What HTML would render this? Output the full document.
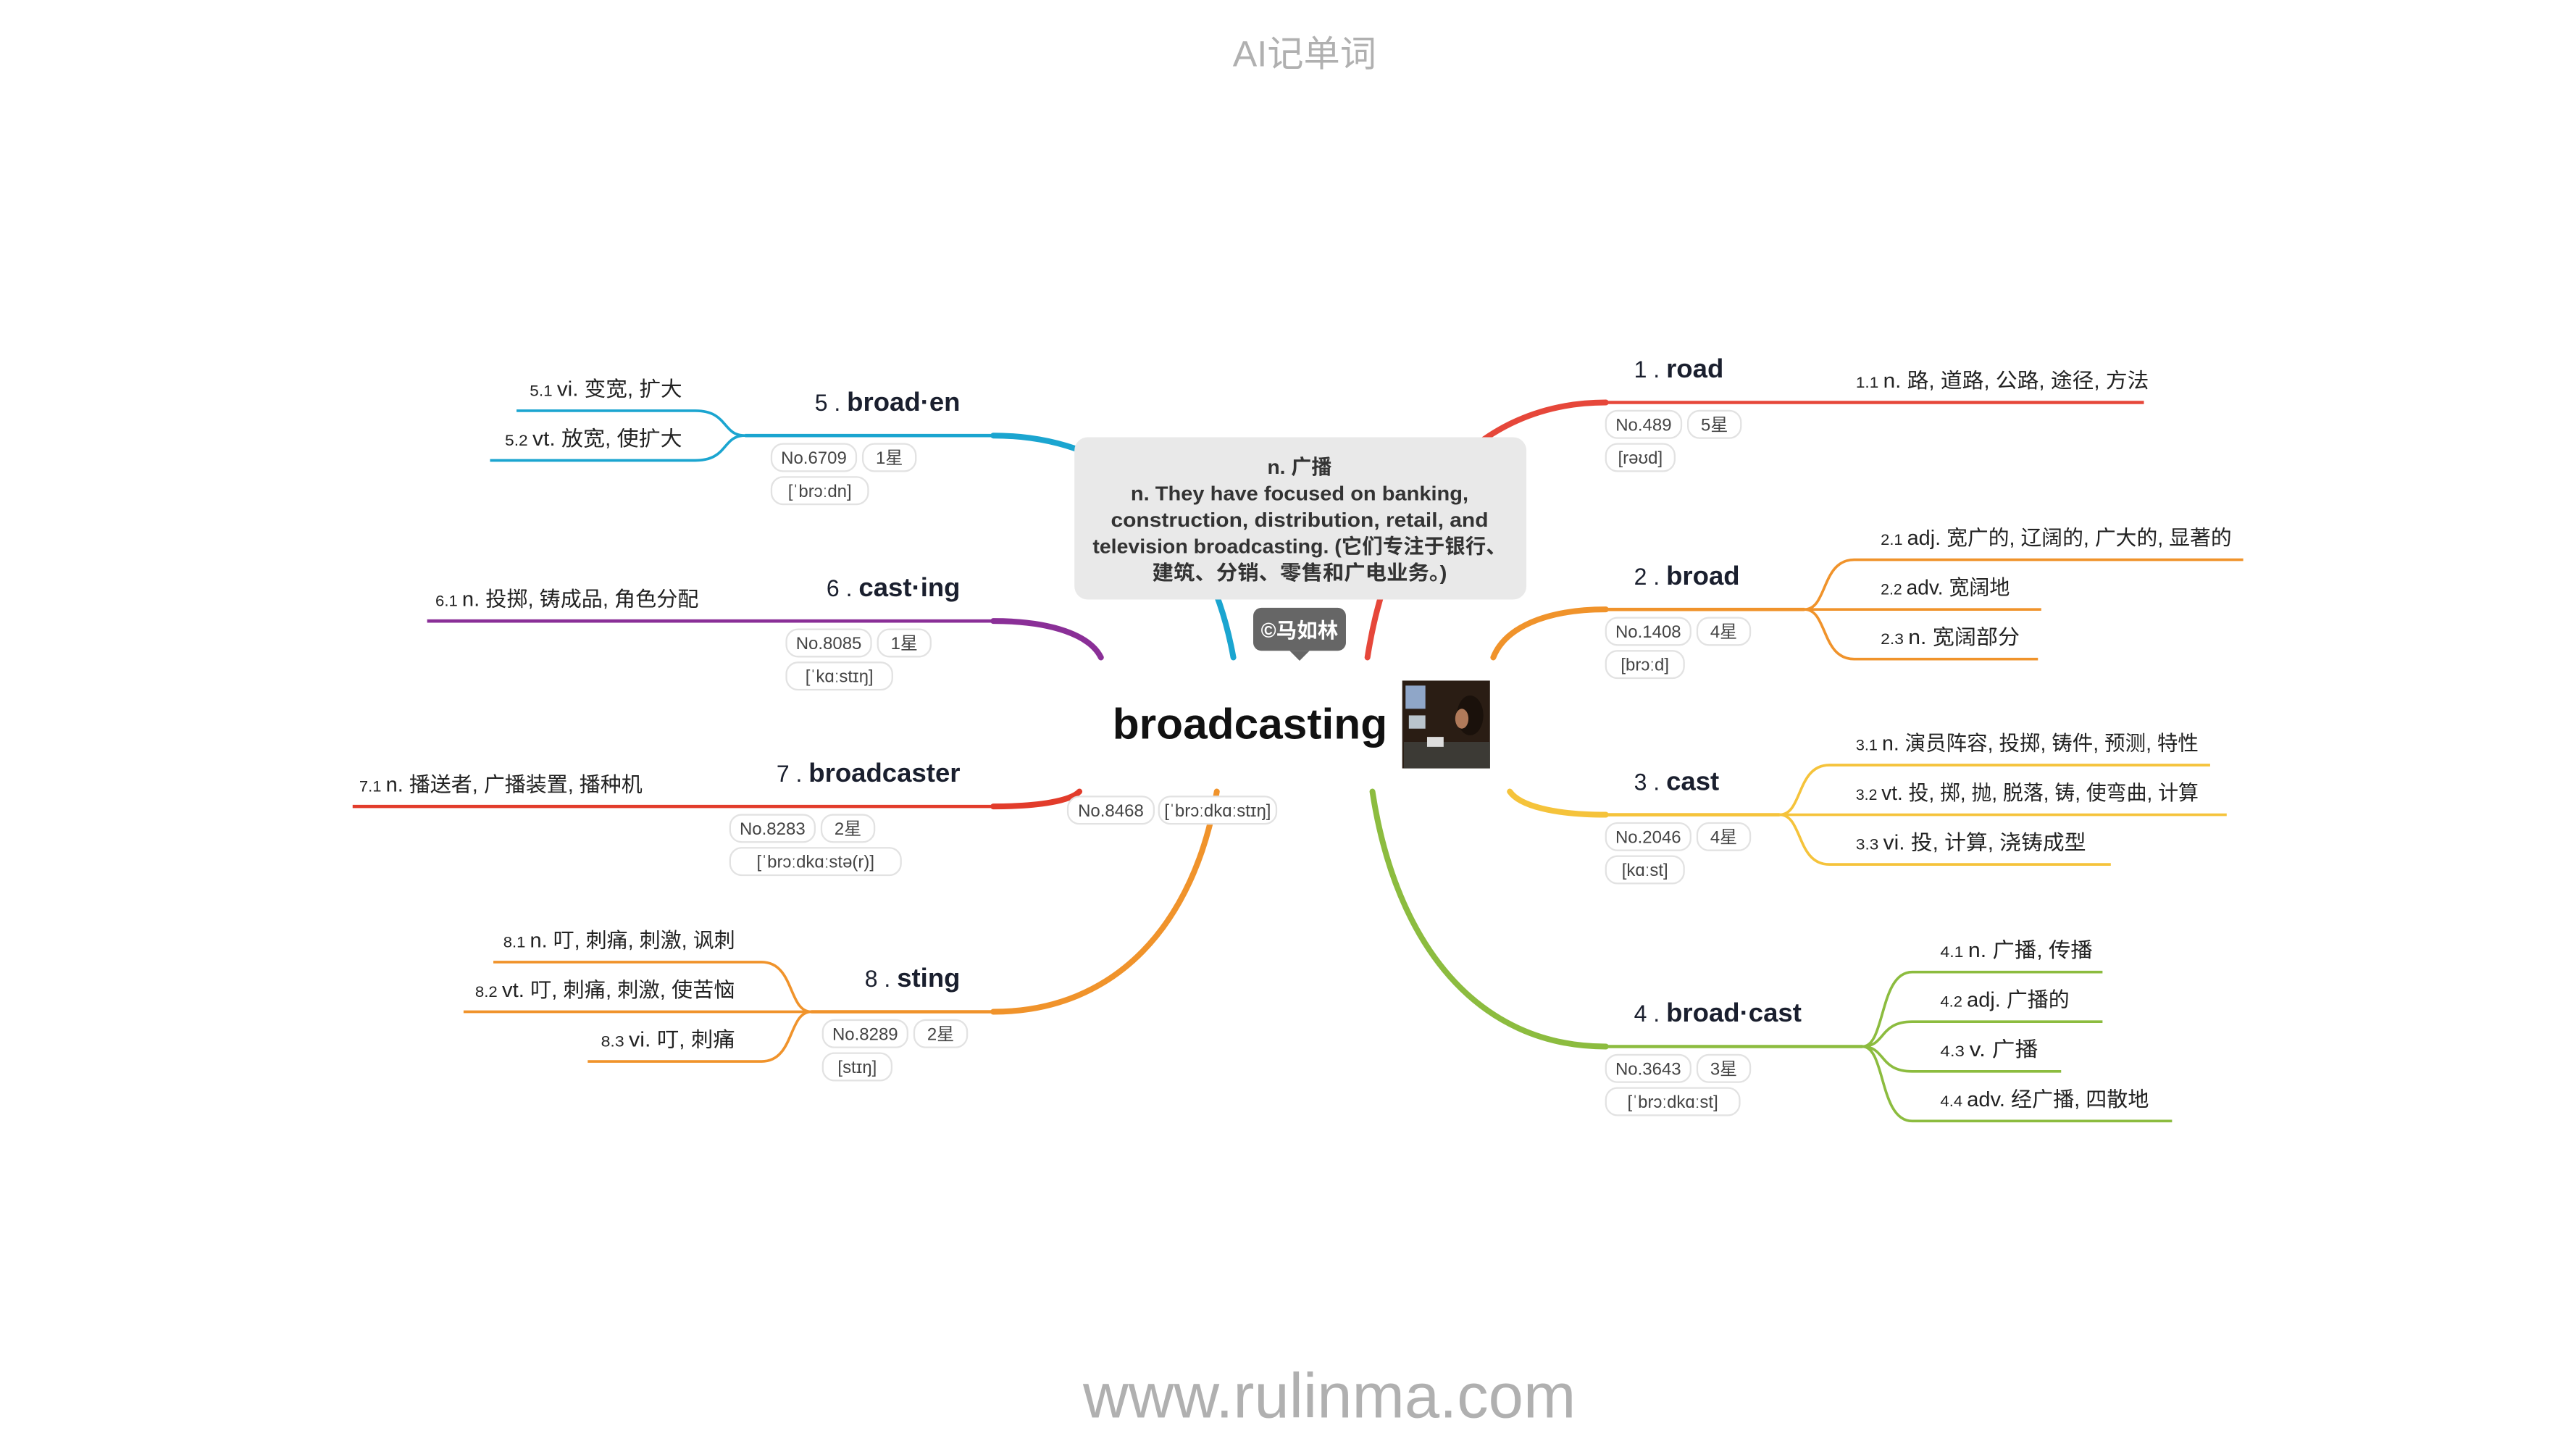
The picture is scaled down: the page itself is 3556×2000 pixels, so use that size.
<!DOCTYPE html>
<html><head><meta charset="utf-8"><style>
html,body{margin:0;padding:0;background:#fff}
svg{display:block}
text{font-family:"Liberation Sans","Noto Sans CJK SC",sans-serif}
</style></head><body>
<svg id="map" width="3556" height="2000" viewBox="0 0 1556 875" xmlns="http://www.w3.org/2000/svg">
<text x="788" y="40" text-anchor="middle" font-size="22" fill="#b0b0b0">AI记单词</text>
<text x="803" y="856" text-anchor="middle" font-size="38" fill="#b0b0b0">www.rulinma.com</text>
<g id="branches"></g>
<rect x="649" y="264" width="273" height="98" rx="8" fill="#e9e9e9"/>
<g font-size="12.3" font-weight="bold" fill="#333" text-anchor="middle">
<text x="785" y="286">n. 广播</text>
<text x="785" y="302" textLength="204" lengthAdjust="spacingAndGlyphs">n. They have focused on banking,</text>
<text x="785" y="318" textLength="228" lengthAdjust="spacingAndGlyphs">construction, distribution, retail, and</text>
<text x="785" y="334" textLength="250" lengthAdjust="spacingAndGlyphs">television broadcasting. (它们专注于银行、</text>
<text x="785" y="350" textLength="178" lengthAdjust="spacingAndGlyphs">建筑、分销、零售和广电业务。)</text>
</g>
<rect x="757" y="367" width="56" height="26" rx="5" fill="#666"/>
<path d="M779,393 L785,399 L791,393 Z" fill="#666"/>
<text x="785" y="385" text-anchor="middle" font-size="12.5" font-weight="bold" fill="#fff">©马如林</text>
<text x="755" y="446" text-anchor="middle" font-size="26" font-weight="bold" fill="#111" textLength="166" lengthAdjust="spacingAndGlyphs">broadcasting</text>
<g>
<rect x="847" y="411" width="53" height="53" fill="#2a1d14"/>
<rect x="849" y="414" width="12" height="14" fill="#8fa6c8"/>
<rect x="851" y="432" width="10" height="8" fill="#b9c4cc"/>
<rect x="848" y="448" width="52" height="16" fill="#3c3a35"/>
<rect x="862" y="445" width="10" height="6" fill="#ddd"/>
<ellipse cx="888" cy="432" rx="8" ry="12" fill="#1a110b"/>
<ellipse cx="883" cy="434" rx="4" ry="6" fill="#b07a5a"/>
</g>
<g id="center-badges"></g>
</svg>
<script>
var NS='http://www.w3.org/2000/svg';
var words=['road','broad','cast','broad·cast','broad·en','cast·ing','broadcaster','sting'];
var nums=['No.489','No.1408','No.2046','No.3643','No.6709','No.8085','No.8283','No.8289'];
var stars=['5星','4星','4星','3星','1星','1星','2星','2星'];
var phon=['[rəʊd]','[brɔːd]','[kɑːst]','[ˈbrɔːdkɑːst]','[ˈbrɔːdn]','[ˈkɑːstɪŋ]','[ˈbrɔːdkɑːstə(r)]','[stɪŋ]'];
var colors=['#e6473a','#f0932b','#f5c33b','#8cbc3f','#1ba5d0','#8a2f97','#e23c2b','#f0932b'];
var senses=[
 ['n. 路, 道路, 公路, 途径, 方法'],
 ['adj. 宽广的, 辽阔的, 广大的, 显著的','adv. 宽阔地','n. 宽阔部分'],
 ['n. 演员阵容, 投掷, 铸件, 预测, 特性','vt. 投, 掷, 抛, 脱落, 铸, 使弯曲, 计算','vi. 投, 计算, 浇铸成型'],
 ['n. 广播, 传播','adj. 广播的','v. 广播','adv. 经广播, 四散地'],
 ['vi. 变宽, 扩大','vt. 放宽, 使扩大'],
 ['n. 投掷, 铸成品, 角色分配'],
 ['n. 播送者, 广播装置, 播种机'],
 ['n. 叮, 刺痛, 刺激, 讽刺','vt. 叮, 刺痛, 刺激, 使苦恼','vi. 叮, 刺痛']
];
var geo=[
 {side:1,sx:826,sy:397,ly:243,jx:1105,tx:1121,ends:[1295]},
 {side:1,sx:902,sy:397,ly:368,jx:1090,tx:1136,ends:[1355,1233,1231]},
 {side:1,sx:912,sy:478,ly:492,jx:1075,tx:1121,ends:[1335,1345,1275]},
 {side:1,sx:829,sy:478,ly:632,jx:1125,tx:1172,ends:[1270,1270,1245,1312]},
 {side:-1,sx:745,sy:397,ly:263,jx:450,tx:412,ends:[312,296]},
 {side:-1,sx:665,sy:397,ly:375,jx:258,tx:422,ends:[258]},
 {side:-1,sx:652,sy:478,ly:487,jx:213,tx:388,ends:[213]},
 {side:-1,sx:735,sy:478,ly:611,jx:490,tx:444,ends:[298,280,355]}
];
var tw=[[155],[190,56,62],[185,185,117],[70,56,37,104],[70,85],[137],[149],[118,135,59]];
var g=document.getElementById('branches');
function el(t,a,p){var e=document.createElementNS(NS,t);for(var k in a)e.setAttribute(k,a[k]);(p||g).appendChild(e);return e;}
function badge(x,y,txt,w,parent){
 var r=el('rect',{x:x,y:y,width:w,height:16.5,rx:7,fill:'#fff',stroke:'#e2e2e2','stroke-width':1},parent);
 
 
 var t=el('text',{x:x+w/2,y:y+12,'font-size':10.5,fill:'#444','text-anchor':'middle'},parent);
 t.textContent=txt;
 
 
}
function bw(s){return Math.max(30,s.length*5.6+12);}
for(var i=0;i<words.length;i++){
 var G=geo[i],c=colors[i],s=G.side;
 var cornerX = s>0?970:600;
 var c1x=G.sx+(cornerX-G.sx)*0.1, c1y=G.sy+(G.ly-G.sy)*0.6;
 var c2x=G.sx+(cornerX-G.sx)*0.45, c2y=G.ly;
 var trunk=el('path',{d:'M'+G.sx+','+G.sy+' C'+c1x+','+c1y+' '+c2x+','+c2y+' '+cornerX+','+G.ly,fill:'none',stroke:c,'stroke-width':3.5,'stroke-linecap':'round'});
 
 
 var jx = (senses[i].length>1)?G.jx:G.ends[0];
 var ln=el('path',{d:'M'+cornerX+','+G.ly+' L'+jx+','+G.ly,fill:'none',stroke:c,'stroke-width':2});
 
 
 var n=senses[i].length;
 for(var j=0;j<n;j++){
  var sy = n===1?G.ly:G.ly+(j-(n-1)/2)*30;
  if(i===1) sy=G.ly+(j-1)*30;
  if(i===7) sy=G.ly+(j-1)*30;
  var d = n===1?'M'+G.ends[0]+','+sy:'M'+G.jx+','+G.ly+' C'+(G.jx+s*14)+','+G.ly+' '+(G.jx+s*10)+','+sy+' '+(G.jx+s*30)+','+sy+' L'+G.ends[j]+','+sy;
  var sp=el('path',{d:d,fill:'none',stroke:c,'stroke-width':1.6});
  
  
  var ty=sy-9;
  var st=el('text',{'font-size':12.5,fill:'#222','text-anchor':s>0?'start':'end',x:G.tx,y:ty});
  var t1=document.createElementNS(NS,'tspan');t1.setAttribute('font-size','9.5');t1.textContent=(i+1)+'.'+(j+1)+'  ';st.appendChild(t1);
  var t2=document.createElementNS(NS,'tspan');t2.textContent=senses[i][j];st.appendChild(t2);
  st.setAttribute('textLength',tw[i][j]+22);
  st.setAttribute('lengthAdjust','spacingAndGlyphs');
  
  
 }
 var lab=el('text',{x:s>0?987:580,y:G.ly-15,'text-anchor':s>0?'start':'end',fill:'#1a1f2e'});
 var a=document.createElementNS(NS,'tspan');a.setAttribute('font-size','14');a.textContent=(i+1)+' .  ';lab.appendChild(a);
 var b=document.createElementNS(NS,'tspan');b.setAttribute('font-size','16');b.setAttribute('font-weight','bold');b.textContent=words[i];lab.appendChild(b);
 
 
 var bx0 = s>0?970:(i===4?466:i===5?475:i===6?441:497);
 var w1=bw(nums[i]),w2=32;
 badge(bx0,G.ly+5,nums[i],w1,g);
 badge(bx0+w1+4,G.ly+5,stars[i],w2,g);
 badge(bx0,G.ly+25,phon[i],bw(phon[i])-4,g);
}
var cb=document.getElementById('center-badges');
badge(645,481,'No.8468',52,cb);
badge(700,481,'[ˈbrɔːdkɑːstɪŋ]',71,cb);
</script>
</body></html>
